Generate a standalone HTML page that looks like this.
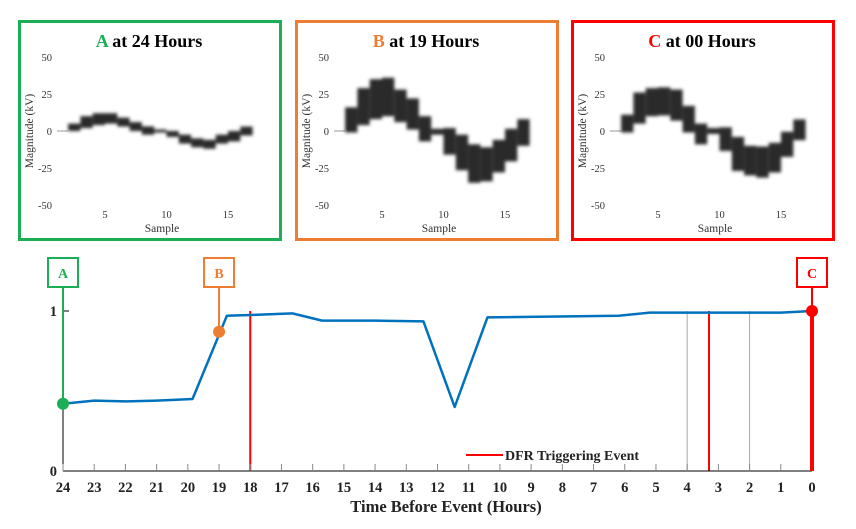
<!DOCTYPE html>
<html><head><meta charset="utf-8"><style>
html,body{margin:0;padding:0;background:#fff;}
svg{display:block;font-family:"Liberation Serif",serif;}
</style></head><body>
<svg id="chart" width="856" height="529" viewBox="0 0 856 529"></svg>
<script>
// ---- main chart data ----
const hours = [24, 23, 22, 21, 19.85, 18.75, 18, 16.65, 15.7, 14, 12.45, 11.45, 10.4, 6.2, 5.2, 1, 0];
const magnitude = [0.42, 0.44, 0.435, 0.44, 0.45, 0.97, 0.975, 0.985, 0.94, 0.94, 0.935, 0.40, 0.96, 0.97, 0.99, 0.99, 1.0];
const xTickLabels = [24,23,22,21,20,19,18,17,16,15,14,13,12,11,10,9,8,7,6,5,4,3,2,1,0];
const yTickLabels = [0, 1];
const dfrEvents = [18, 3.3, 0];
const grayEvents = [4, 2];
const markerHours = [24, 19, 0];
const markerValues = [0.42, 0.87, 1.0];
const markerNames = ["A", "B", "C"];
const markerColors = ["#1aaf54", "#ed7d31", "#ff0000"];
// ---- inset data: block centres and half-heights (kV), samples 2..16 ----
const insetTitles = ["at 24 Hours", "at 19 Hours", "at 00 Hours"];
const insetA_center = [2.5, 6, 8, 8.5, 6, 3, 0.3, 0, -2, -5.5, -8, -9, -5.5, -3.5, 0];
const insetA_half = [2.5, 4, 4, 3.5, 3, 3, 2.8, 1, 2, 3, 3, 3, 3, 3.5, 3];
const insetB_center = [7.5, 16.5, 21.5, 23, 17, 11.5, 1.5, -0.5, -7, -14.5, -22, -22.5, -17, -9.5, -1];
const insetB_half = [8.5, 12.5, 13.5, 13, 11, 10.5, 8.5, 2, 9, 12, 13, 11.5, 11, 11, 9];
const insetC_center = [5, 15.5, 19.5, 20, 17.5, 8, -2, 0, -5.5, -15.5, -20, -21, -18, -9, 0.8];
const insetC_half = [6, 10.5, 9.5, 9.5, 10.5, 9, 7, 2, 8, 11.5, 10, 10.5, 10, 8.5, 7];
const insetYTicks = [50, 25, 0, -25, -50];
const insetXTicks = [5, 10, 15];

const svg = document.getElementById('chart');
const NS = 'http://www.w3.org/2000/svg';
function mk(tag, attrs, parent) {
  const e = document.createElementNS(NS, tag);
  for (const k in attrs) e.setAttribute(k, attrs[k]);
  (parent || svg).appendChild(e);
  return e;
}
const defs = mk('defs', {});
const filt = mk('filter', {id: 'blur', x: '-20%', y: '-20%', width: '140%', height: '140%'}, defs);
mk('feGaussianBlur', {stdDeviation: '1.6'}, filt);

const X0 = 63, X1 = 812, Y0 = 471, Y1 = 311;
const xs = h => X0 + (24 - h) * (X1 - X0) / 24;
const ys = v => Y0 - v * (Y0 - Y1);

// ---- insets ----
const insetLefts = [18, 295, 571];
const insetCenters = [insetA_center, insetB_center, insetC_center];
const insetHalfs = [insetA_half, insetB_half, insetC_half];
insetLefts.forEach((L, i) => {
  const g = mk('g', {});
  
  
  const box = mk('rect', {x: L + 1.5, y: 21.5, width: 261, height: 218, fill: '#fff', stroke: markerColors[i], 'stroke-width': 3}, g);
  
  
  const sx = s => L + 87 + (s - 5) * 12.3;
  const sy = v => 131 - v * 1.48;
  const t = mk('text', {x: L + 131, y: 47, 'text-anchor': 'middle', 'font-size': 18, 'font-weight': 'bold', fill: '#000'}, g);
  
  
  const ts = mk('tspan', {fill: markerColors[i]}, t); ts.textContent = markerNames[i];
  const ts2 = mk('tspan', {}, t); ts2.textContent = ' ' + insetTitles[i];
  insetYTicks.forEach(v => {
    const tl = mk('text', {x: L + 34, y: sy(v) + 4, 'text-anchor': 'end', 'font-size': 10.5, fill: '#333'}, g);
    
    
    tl.textContent = v;
  });
  insetXTicks.forEach(v => {
    const tl = mk('text', {x: sx(v), y: 218, 'text-anchor': 'middle', 'font-size': 10.5, fill: '#333'}, g);
    
    
    tl.textContent = v;
  });
  const yl = mk('text', {x: 0, y: 0, transform: `translate(${L + 15},131) rotate(-90)`, 'text-anchor': 'middle', 'font-size': 11.5, fill: '#333'}, g);
  
  
  yl.textContent = 'Magnitude (kV)';
  const xl = mk('text', {x: L + 144, y: 232, 'text-anchor': 'middle', 'font-size': 11.5, fill: '#333'}, g);
  
  
  xl.textContent = 'Sample';
  mk('line', {x1: sx(1.1), y1: sy(0), x2: sx(2), y2: sy(0), stroke: '#999', 'stroke-width': 1}, g);
  const bg = mk('g', {filter: 'url(#blur)'}, g);
  insetCenters[i].forEach((c, k) => {
    const h = insetHalfs[i][k];
    const r = mk('rect', {x: sx(k + 2), y: sy(c + h), width: sx(k + 3) - sx(k + 2), height: sy(c - h) - sy(c + h), fill: '#2a2a2a'}, bg);
    
    
  });
});

// ---- main chart ----
grayEvents.forEach(h => {
  const l = mk('line', {x1: xs(h), y1: Y1, x2: xs(h), y2: Y0, stroke: '#aaa', 'stroke-width': 1});
  
  
});
dfrEvents.slice(0, 2).forEach(h => {
  const l = mk('line', {x1: xs(h), y1: Y1, x2: xs(h), y2: Y0, stroke: '#ff0000', 'stroke-width': 2});
  
  
});
const ax = mk('line', {x1: X0, y1: Y0, x2: X1, y2: Y0, stroke: '#000', 'stroke-width': 1});
 
const ay = mk('line', {x1: X0, y1: Y0, x2: X0, y2: Y1, stroke: '#000', 'stroke-width': 1});
 
mk('line', {x1: X0, y1: Y1, x2: X0 + 6, y2: Y1, stroke: '#000'});
xTickLabels.forEach(h => {
  mk('line', {x1: xs(h), y1: Y0, x2: xs(h), y2: Y0 - 7, stroke: '#888'});
  const t = mk('text', {x: xs(h), y: 492, 'text-anchor': 'middle', 'font-size': 14.5, 'font-weight': 'bold', fill: '#222'});
  
  
  t.textContent = h;
});
yTickLabels.forEach(v => {
  const t = mk('text', {x: X0 - 6, y: ys(v) + 5, 'text-anchor': 'end', 'font-size': 14.5, 'font-weight': 'bold', fill: '#222'});
  
  
  t.textContent = v;
});
const xt = mk('text', {x: 446, y: 512, 'text-anchor': 'middle', 'font-size': 16.5, 'font-weight': 'bold', fill: '#222'});
 
xt.textContent = 'Time Before Event (Hours)';
const pts = hours.map((h, i) => xs(h) + ',' + ys(magnitude[i])).join(' ');
const pl = mk('polyline', {points: pts, fill: 'none', stroke: '#0072bd', 'stroke-width': 2.5, 'stroke-linejoin': 'round'});
 
const tr = mk('line', {x1: xs(dfrEvents[2]), y1: ys(1), x2: xs(dfrEvents[2]), y2: Y0, stroke: '#ff0000', 'stroke-width': 4});
 
markerHours.forEach((h, i) => {
  const x = xs(h), y = ys(markerValues[i]);
  const g = mk('g', {});
  
  
  mk('line', {x1: x, y1: 288, x2: x, y2: y, stroke: markerColors[i], 'stroke-width': 2}, g);
  mk('rect', {x: x - 15, y: 258, width: 30, height: 29, fill: '#fff', stroke: markerColors[i], 'stroke-width': 2}, g);
  const t = mk('text', {x: x, y: 278, 'text-anchor': 'middle', 'font-size': 14, 'font-weight': 'bold', fill: markerColors[i]}, g);
  t.textContent = markerNames[i];
  mk('circle', {cx: x, cy: y, r: 6, fill: markerColors[i]}, g);
});
const lg = mk('g', {});
 
mk('line', {x1: 466, y1: 455, x2: 503, y2: 455, stroke: '#ff0000', 'stroke-width': 2}, lg);
const lt = mk('text', {x: 505, y: 460, 'font-size': 14, 'font-weight': 'bold', fill: '#222'}, lg);
lt.textContent = 'DFR Triggering Event';
</script>
</body></html>
